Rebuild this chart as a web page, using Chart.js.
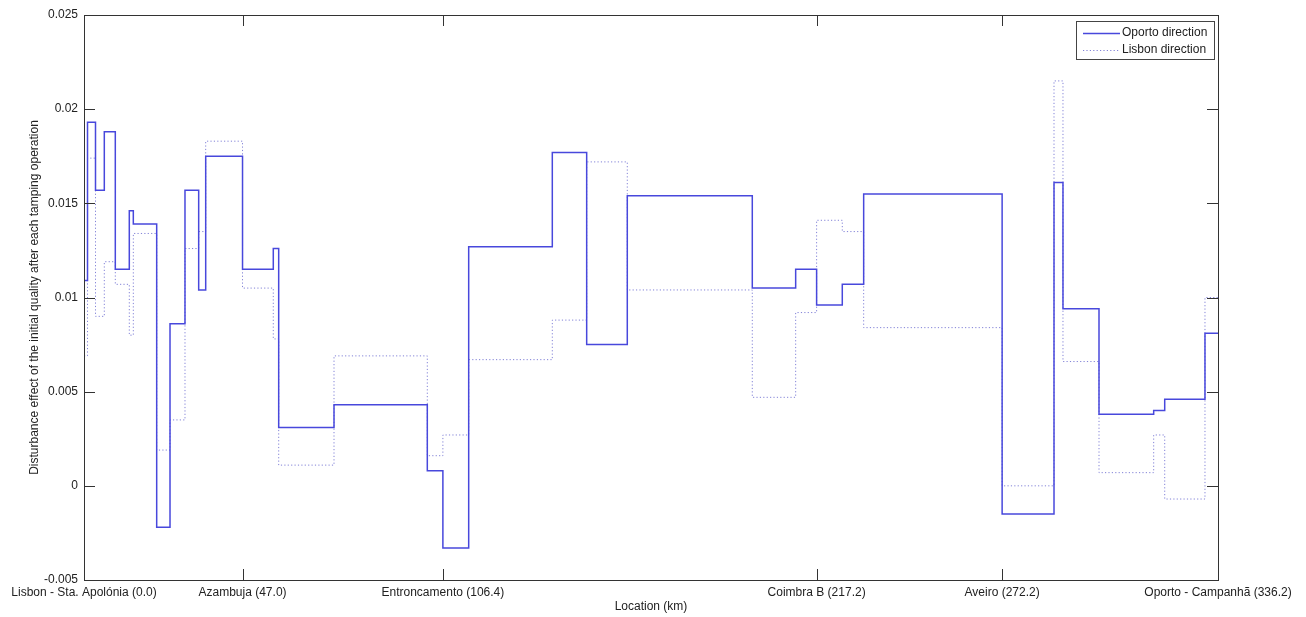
<!DOCTYPE html>
<html>
<head>
<meta charset="utf-8">
<script src="https://cdn.jsdelivr.net/npm/chart.js@4"></script>
<style>
  body{margin:0;background:#fff}
  #wrap{width:1306px;height:617px;position:relative}
</style>
</head>
<body>
<div id="wrap"><canvas id="chart"></canvas></div>
<script>
// ---- data ----
// start of each section (km)
const sectionStart = [0, 1.04, 3.41, 6.02, 9.28, 13.43, 14.62, 21.55, 25.5, 29.94, 34.0, 36.08,
  47.0, 56.12, 57.72, 74.12, 101.78, 106.4, 114.05, 138.84, 149.03, 161.07, 198.13, 210.99,
  217.2, 224.81, 231.15, 272.2, 287.58, 290.24, 300.92, 317.13, 320.4, 332.34];
const lineEnd = 336.2;

const oporto = [0.0109, 0.0193, 0.0157, 0.0188, 0.0115, 0.0146, 0.0139, -0.0022, 0.0086, 0.0157, 0.0104, 0.0175,
  0.0115, 0.0126, 0.0031, 0.0043, 0.0008, -0.0033, 0.0127, 0.0177, 0.0075, 0.0154, 0.0105, 0.0115,
  0.0096, 0.0107, 0.0155, -0.0015, 0.0161, 0.0094, 0.0038, 0.0040, 0.0046, 0.0081];

const lisbon = [0.0069, 0.0174, 0.0090, 0.0119, 0.0107, 0.0080, 0.0134, 0.0019, 0.0035, 0.0126, 0.0135, 0.0183,
  0.0105, 0.0078, 0.0011, 0.0069, 0.0016, 0.0027, 0.0067, 0.0088, 0.0172, 0.0104, 0.0047, 0.0092,
  0.0141, 0.0135, 0.0084, 0.0000, 0.0215, 0.0066, 0.0007, 0.0027, -0.0007, 0.0100];

const stationKm = [0, 47.0, 106.4, 217.2, 272.2, 336.2];
const stationLabels = ['Lisbon - Sta. Apolónia (0.0)', 'Azambuja (47.0)', 'Entroncamento (106.4)',
  'Coimbra B (217.2)', 'Aveiro (272.2)', 'Oporto - Campanhã (336.2)'];
const yTicks = [-0.005, 0, 0.005, 0.01, 0.015, 0.02, 0.025];

function toPoints(vals){
  const pts = sectionStart.map((x, i) => ({x, y: vals[i]}));
  pts.push({x: lineEnd, y: vals[vals.length - 1]});
  return pts;
}

const FONT = 'Liberation Sans, Arial, sans-serif';
const TXT = '#222';

// ---- box, inward ticks and legend (matlab look) ----
const matlabFrame = {
  id: 'matlabFrame',
  afterDraw(chart){
    const {ctx, chartArea: a, scales: {x, y}} = chart;
    ctx.save();
    ctx.strokeStyle = '#333';
    ctx.lineWidth = 1;
    ctx.strokeRect(Math.round(a.left) + 0.5, Math.round(a.top) + 0.5,
      Math.round(a.right - a.left), Math.round(a.bottom - a.top));
    const tl = 11;
    ctx.beginPath();
    stationKm.forEach(v => {
      const px = Math.round(x.getPixelForValue(v)) + 0.5;
      ctx.moveTo(px, a.bottom); ctx.lineTo(px, a.bottom - tl);
      ctx.moveTo(px, a.top); ctx.lineTo(px, a.top + tl);
    });
    yTicks.forEach(v => {
      const py = Math.round(y.getPixelForValue(v)) + 0.5;
      ctx.moveTo(a.left, py); ctx.lineTo(a.left + tl, py);
      ctx.moveTo(a.right, py); ctx.lineTo(a.right - tl, py);
    });
    ctx.stroke();

    // legend
    const lx = 1076.5, ly = 21.5, lw = 138, lh = 38;
    ctx.fillStyle = '#fff';
    ctx.fillRect(lx, ly, lw, lh);
    ctx.strokeStyle = '#444';
    ctx.strokeRect(lx, ly, lw, lh);
    ctx.font = '12px ' + FONT;
    ctx.textBaseline = 'middle';
    ctx.fillStyle = TXT;
    chart.data.datasets.forEach((ds, i) => {
      const ry = ly + 11.5 + i * 16.5;
      ctx.strokeStyle = ds.borderColor;
      ctx.lineWidth = ds.borderWidth;
      ctx.setLineDash(ds.borderDash || []);
      ctx.beginPath();
      ctx.moveTo(1083, Math.round(ry) + 0.5);
      ctx.lineTo(1120, Math.round(ry) + 0.5);
      ctx.stroke();
      ctx.setLineDash([]);
      ctx.fillText(ds.label, 1122, ry);
    });
    ctx.restore();
  }
};

new Chart(document.getElementById('chart'), {
  type: 'line',
  data: {
    datasets: [
      {
        label: 'Oporto direction',
        data: toPoints(oporto),
        stepped: 'before',
        borderColor: 'rgb(72,72,220)',
        borderWidth: 1.5,
        pointRadius: 0,
        fill: false
      },
      {
        label: 'Lisbon direction',
        data: toPoints(lisbon),
        stepped: 'before',
        borderColor: 'rgb(130,130,215)',
        borderWidth: 1,
        borderDash: [1.2, 2.2],
        pointRadius: 0,
        fill: false
      }
    ]
  },
  options: {
    responsive: true,
    maintainAspectRatio: false,
    animation: false,
    layout: { padding: { left: 0, right: 88, top: 15, bottom: 0 } },
    plugins: { legend: { display: false }, tooltip: { enabled: false } },
    scales: {
      x: {
        type: 'linear',
        min: 0,
        max: lineEnd,
        afterBuildTicks: s => { s.ticks = stationKm.map(v => ({value: v})); },
        afterFit: s => { s.height = 37; },
        ticks: {
          autoSkip: false,
          maxRotation: 0,
          padding: 5,
          color: TXT,
          font: { family: FONT, size: 12 },
          callback: (v, i) => stationLabels[i]
        },
        grid: { display: false, drawTicks: false },
        border: { display: false },
        title: {
          display: true,
          text: 'Location (km)',
          color: TXT,
          font: { family: FONT, size: 12 },
          padding: { bottom: 3, top: 0 }
        }
      },
      y: {
        min: -0.005,
        max: 0.025,
        afterBuildTicks: s => { s.ticks = yTicks.map(v => ({value: v})); },
        afterFit: s => { s.width = 84; },
        ticks: {
          padding: 6,
          color: TXT,
          font: { family: FONT, size: 12 },
          callback: v => String(Number(v.toFixed(3)))
        },
        grid: { display: false, drawTicks: false },
        border: { display: false },
        title: {
          display: true,
          text: 'Disturbance effect of the initial quality after each tamping operation',
          color: TXT,
          font: { family: FONT, size: 12 },
          padding: { top: 27, bottom: 0 }
        }
      }
    }
  },
  plugins: [matlabFrame]
});
</script>
</body>
</html>
